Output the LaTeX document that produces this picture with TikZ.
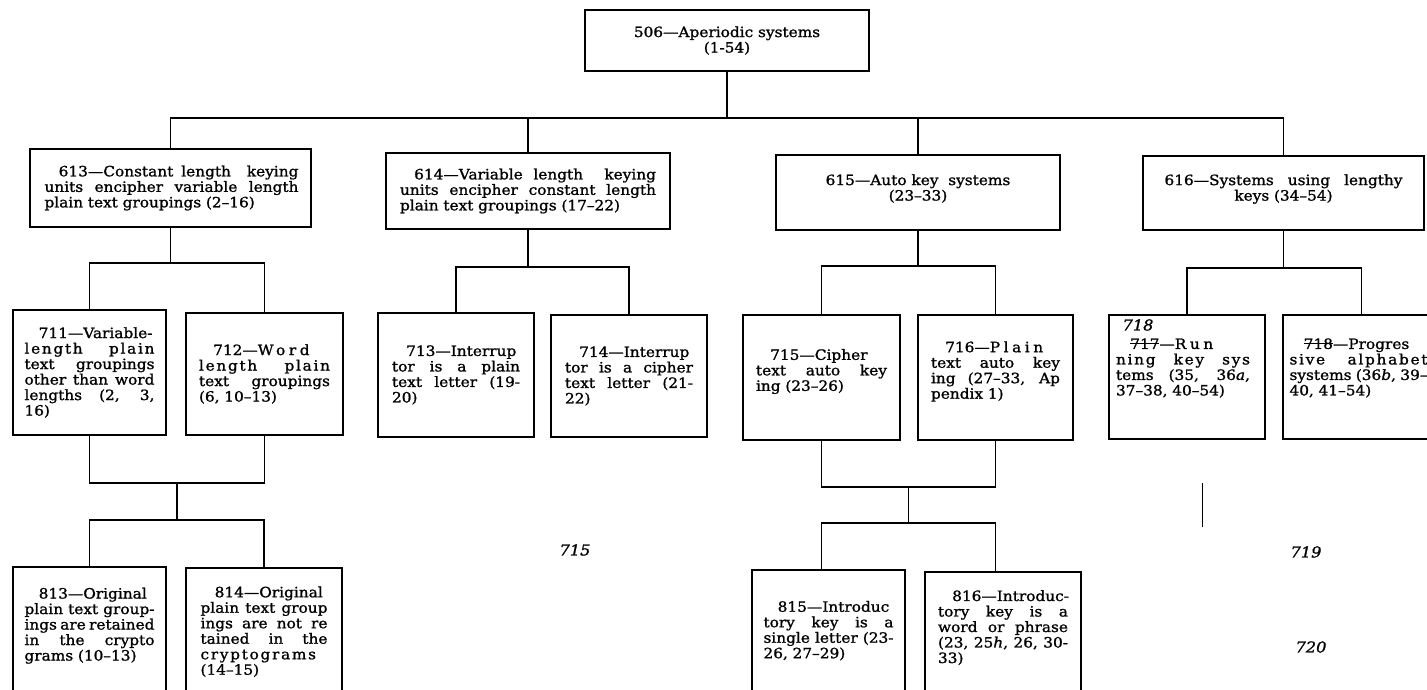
\documentclass[tikz,border=0pt]{standalone}
\usepackage{fontspec}
\setmainfont{DejaVu Serif}[FakeBold=1.2, FakeStretch=1.08]
\usetikzlibrary{calc}
\tikzset{
  box/.style={draw, line width=2.6pt, inner sep=0pt},
  conn/.style={line width=1.9pt},
  txt/.style={font=\fontsize{14.2}{15.5}\selectfont, inner sep=0pt},
  ctxt/.style={font=\fontsize{14.2}{15.5}\selectfont, inner sep=0pt, align=center},
  hand/.style={font=\itshape\fontsize{15}{16}\selectfont, inner sep=0pt},
}
\newlength{\jw}
\newsavebox{\strkbox}
\newcommand{\strk}[1]{\sbox{\strkbox}{#1}\rlap{\rule[0.33em]{\wd\strkbox}{1.1pt}}\usebox{\strkbox}}
\newcommand{\jl}[1]{{\spaceskip=0.33em plus 1fil minus 0.25em\relax\hbox to \jw{#1}}\par}
\newcommand{\nl}[1]{\hbox{#1}\par}
\newcommand{\cl}[1]{\hbox to \jw{\hss#1\hss}\par}
\newcommand{\lsp}[1]{{\addfontfeature{LetterSpace=12}#1}}
\newcommand{\wsp}[1]{{\addfontfeature{LetterSpace=25}#1}}
\newcommand{\ind}{\hspace*{1em}}
\newcommand{\bx}[5]{\node[box, minimum width=#4-#2, minimum height=#5-#3] (#1) at ({(#2+#4)/2},{(#3+#5)/2}) {};}
\newcommand{\tx}[4]{\node[txt, text width=#3pt] (#1) at (#2) {\setlength{\jw}{#3pt}\setlength{\parindent}{0pt}#4};}
\begin{document}
\begin{tikzpicture}[x=1pt, y=-1pt]
\useasboundingbox (0,0) rectangle (1427,689);
\fill[white] (0,0) rectangle (1427,689);
\clip (0,0) rectangle (1427,689);

% boxes
\bx{b506}{585}{10}{869}{71}
\bx{b613}{30}{149}{311}{227}
\bx{b614}{386}{153}{670}{229}
\bx{b615}{776}{155}{1060}{230}
\bx{b616}{1143}{156}{1424}{230}
\bx{b711}{13}{310}{166}{435}
\bx{b712}{186}{313}{343}{435}
\bx{b713}{378}{313}{534}{437}
\bx{b714}{551}{315}{707}{437}
\bx{b715}{743}{315}{900}{440}
\bx{b716}{918}{315}{1073}{440}
\bx{b717}{1109}{315}{1265}{439}
\bx{b718}{1283}{315}{1440}{439}
\bx{b813}{13}{567}{166}{730}
\bx{b814}{186}{568}{342}{730}
\bx{b815}{752}{570}{905}{730}
\bx{b816}{925}{572}{1081}{730}

% texts
\node[ctxt] (t506) at (b506.center) {506—Aperiodic systems\\(1-54)};
\tx{t613}{[xshift=1pt]b613.center}{254}{\jl{\ind 613—Constant length\ \ keying}\jl{units encipher variable length}\nl{plain text groupings (2–16)}}
\tx{t614}{[xshift=0pt]b614.center}{256}{\jl{\ind 614—Variable length\ \ keying}\jl{units encipher constant length}\nl{plain text groupings (17–22)}}
\node[ctxt] (t615) at ([yshift=4pt]b615.center) {615—Auto key\ \ systems\\(23–33)};
\tx{t616}{[yshift=4pt]b616.center}{238}{\jl{616—Systems using lengthy}\cl{keys (34–54)}}
\tx{t711}{b711.center}{130}{\jl{\ind 711—Variable-}\jl{\lsp{length plain}}\jl{text groupings}\jl{other than word}\jl{lengths (2, 3,}\nl{16)}}
\tx{t712}{b712.center}{131}{\jl{\ind 712—\wsp{Word}}\jl{\lsp{length plain}}\jl{text groupings}\nl{(6, 10–13)}}
\tx{t713}{b713.center}{128}{\nl{\ind 713—Interrup}\jl{tor is a plain}\jl{text letter (19-}\nl{20)}}
\tx{t714}{b714.center}{128}{\nl{\ind 714—Interrup}\jl{tor is a cipher}\jl{text letter (21-}\nl{22)}}
\tx{t715}{[yshift=6pt]b715.center}{131}{\nl{\ind 715—Cipher}\jl{text auto key}\nl{ing (23–26)}}
\tx{t716}{[yshift=6pt]b716.center}{129}{\nl{\ind 716—\wsp{Plain}}\jl{text auto key}\jl{ing (27–33, Ap}\nl{pendix 1)}}
\tx{t717}{[xshift=-4pt,yshift=9pt]b717.center}{134}{\nl{\ind\strk{717}—\wsp{Run}}\jl{\lsp{ning key sys}}\jl{tems (35, 36\textit{a},}\nl{37–38, 40–54)}}
\tx{t718}{[xshift=-3pt,yshift=9pt]b718.center}{138}{\nl{\ind\strk{718}—Progres}\jl{\lsp{sive alphabet}}\jl{systems (36\textit{b}, 39–}\nl{40, 41–54)}}
\tx{t813}{[yshift=-60pt]b813.north}{130}{\nl{\ind 813—Original}\jl{plain text group-}\jl{ings are retained}\jl{in the crypto}\nl{grams (10–13)}}
\tx{t814}{[yshift=-65pt]b814.north}{127}{\nl{\ind 814—Original}\jl{plain text group}\jl{ings are not re}\jl{tained in the}\nl{\lsp{cryptograms}}\nl{(14–15)}}
\tx{t815}{[yshift=-62pt]b815.north}{130}{\nl{\ind 815—Introduc}\jl{tory key is a}\jl{single letter (23-}\nl{26, 27–29)}}
\tx{t816}{[yshift=-57pt]b816.north}{130}{\nl{\ind 816—Introduc-}\jl{tory key is a}\jl{word or phrase}\jl{(23, 25\textit{h}, 26, 30-}\nl{33)}}

% handwritten notes
\node[hand] (h718) at (1138,325) {718};
\node[hand] (h715) at (575,550) {715};
\node[hand] (h719) at (1306,552) {719};
\node[hand] (h720) at (1311,647) {720};
\draw[line width=0.6pt] (1202,483) -- (1202,527);

% connectors level 1
\coordinate (bus1) at (0,118);
\draw[conn] (b506.south) -- (b506.south |- bus1);
\draw[conn] (b613.north) -- (b613.north |- bus1) -- (b616.north |- bus1) -- (b616.north);
\draw[conn] (b614.north) -- (b614.north |- bus1);
\draw[conn] (b615.north) -- (b615.north |- bus1);

% connectors level 2
\coordinate (bus2a) at (0,263);
\coordinate (bus2b) at (0,267);
\coordinate (bus2c) at (0,266);
\coordinate (bus2d) at (0,268);
\draw[conn] (b613.south) -- (b613.south |- bus2a);
\draw[conn] (b711.north) -- (b711.north |- bus2a) -- (b712.north |- bus2a) -- (b712.north);
\draw[conn] (b614.south) -- (b614.south |- bus2b);
\draw[conn] (b713.north) -- (b713.north |- bus2b) -- (b714.north |- bus2b) -- (b714.north);
\draw[conn] (b615.south) -- (b615.south |- bus2c);
\draw[conn] (b715.north) -- (b715.north |- bus2c) -- (b716.north |- bus2c) -- (b716.north);
\draw[conn] (b616.south) -- (b616.south |- bus2d);
\draw[conn] (b717.north) -- (b717.north |- bus2d) -- (b718.north |- bus2d) -- (b718.north);

% connectors level 3
\coordinate (j1) at (0,483);
\coordinate (bus3a) at (0,520);
\draw[conn] (b711.south) -- (b711.south |- j1) -- (b712.south |- j1) -- (b712.south);
\coordinate (m1) at ($(b711.south |- j1)!0.5!(b712.south |- j1)$);
\draw[conn] (m1) -- (m1 |- bus3a);
\draw[conn] (b813.north) -- (b813.north |- bus3a) -- (b814.north |- bus3a) -- (b814.north);

\coordinate (j2) at (0,487);
\coordinate (bus3b) at (0,523);
\draw[conn] (b715.south) -- (b715.south |- j2) -- (b716.south |- j2) -- (b716.south);
\coordinate (m2) at ($(b715.south |- j2)!0.5!(b716.south |- j2)$);
\draw[conn] (m2) -- (m2 |- bus3b);
\draw[conn] (b715.south |- b815.north) -- (b715.south |- bus3b) -- (b716.south |- bus3b) -- (b716.south |- b816.north);
\end{tikzpicture}
\end{document}
